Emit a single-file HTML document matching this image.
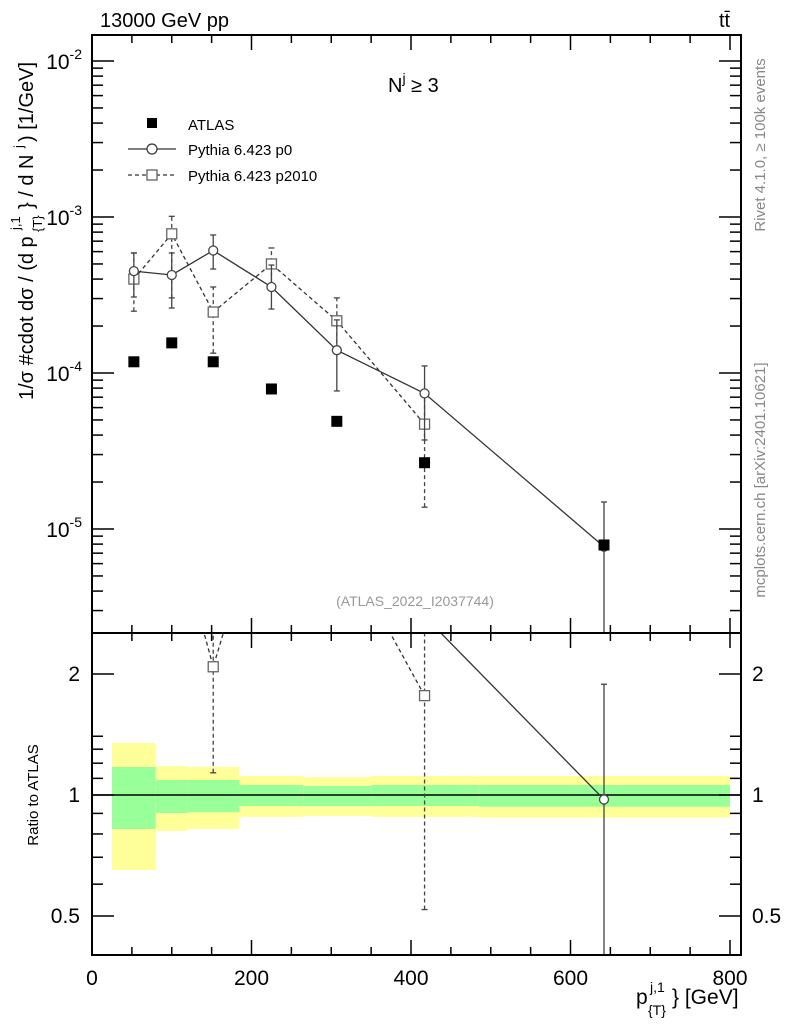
<!DOCTYPE html>
<html><head><meta charset="utf-8"><style>
html,body{margin:0;padding:0;background:#fff;overflow:hidden;width:786px;height:1024px;}
svg{font-family:"Liberation Sans",sans-serif;display:block;}
</style></head><body>
<svg id="c" width="786" height="1024" xmlns="http://www.w3.org/2000/svg">
<defs>
<clipPath id="cm"><rect x="92" y="35" width="649" height="598"/></clipPath>
<clipPath id="cr"><rect x="92" y="633" width="649" height="322"/></clipPath>
</defs>
<g id="bands"></g>
<g id="marks"></g>
<rect x="92" y="35" width="649" height="598" fill="none" stroke="#000" stroke-width="2"/>
<rect x="92" y="633" width="649" height="322" fill="none" stroke="#000" stroke-width="2"/>
<g id="ticks" stroke="#000" stroke-width="1.5"></g>
<g id="labels" font-size="21"></g>
<text x="100" y="27" font-size="20">13000 GeV pp</text>
<text x="719" y="27" font-size="20">tt̄</text>
<text x="388" y="92" font-size="20">N<tspan dy="-9" font-size="14">j</tspan><tspan dy="9"> ≥ 3</tspan></text>
<text x="415" y="606" font-size="14" fill="#999" text-anchor="middle">(ATLAS_2022_I2037744)</text>
<text transform="translate(765,145) rotate(-90)" font-size="15" fill="#888" text-anchor="middle">Rivet 4.1.0, ≥ 100k events</text>
<text transform="translate(765,480) rotate(-90)" font-size="15" fill="#888" text-anchor="middle">mcplots.cern.ch [arXiv:2401.10621]</text>
<g transform="translate(33,400) rotate(-90)">
<text x="0" y="0" font-size="20">1/σ #cdot dσ / (d p</text>
<text x="170" y="-13" font-size="13">j,1</text>
<text x="168" y="9" font-size="13">{T}</text>
<text x="191" y="0" font-size="20">} / d N</text>
<text x="252" y="-10" font-size="13">j</text>
<text x="258" y="0" font-size="20">) [1/GeV]</text>
</g>
<text transform="translate(38,795) rotate(-90)" font-size="15" text-anchor="middle">Ratio to ATLAS</text>
<g>
<text x="636" y="1004" font-size="21">p</text>
<text x="650" y="992" font-size="14">j,1</text>
<text x="648" y="1015" font-size="14">{T}</text>
<text x="672" y="1004" font-size="21">} [GeV]</text>
</g>
<g>
<rect x="147" y="118" width="10" height="10" fill="#000"/>
<text x="188" y="130" font-size="15">ATLAS</text>
<line x1="128" y1="149" x2="176" y2="149" stroke="#333" stroke-width="1.2"/>
<circle cx="152" cy="149" r="5" fill="#fff" stroke="#333" stroke-width="1.2"/>
<text x="188" y="155" font-size="15">Pythia 6.423 p0</text>
<line x1="128" y1="175" x2="176" y2="175" stroke="#333" stroke-width="1.2" stroke-dasharray="4,3"/>
<rect x="147" y="170" width="10" height="10" fill="#fff" stroke="#555" stroke-width="1.2"/>
<text x="188" y="181" font-size="15">Pythia 6.423 p2010</text>
</g>
</svg>
<script>
const binEdges=[25,80,120,185,265,350,485,800];
const xCenters=[52.5,100,152,225,307,417,642];
const atlas=[1.18e-4,1.56e-4,1.18e-4,7.9e-5,4.9e-5,2.66e-5,7.9e-6];
const p0=[4.5e-4,4.25e-4,6.1e-4,3.56e-4,1.4e-4,7.4e-5,7.7e-6];
const p0Lo=[3.07e-4,2.61e-4,4.64e-4,2.57e-4,7.67e-5,3.72e-5,1e-8];
const p0Hi=[5.88e-4,5.88e-4,7.67e-4,4.92e-4,2.19e-4,1.11e-4,1.49e-5];
const p2010=[4.0e-4,7.8e-4,2.46e-4,5.0e-4,2.16e-4,4.7e-5];
const p2010Lo=[2.49e-4,3.03e-4,1.34e-4,3.4e-4,1.4e-4,1.38e-5];
const p2010Hi=[5.88e-4,1.01e-3,3.56e-4,6.33e-4,3.03e-4,7.45e-5];
const yellowHi=[1.347,1.181,1.175,1.115,1.109,1.115,1.115];
const yellowLo=[0.651,0.814,0.823,0.882,0.887,0.882,0.878];
const greenHi=[1.174,1.09,1.09,1.059,1.053,1.059,1.059];
const greenLo=[0.823,0.902,0.906,0.939,0.939,0.939,0.935];
const xTickLabels=[0,200,400,600,800];
const yTickExps=[-2,-3,-4,-5];
const rTickLabels=[0.5,1,2];

const NS="http://www.w3.org/2000/svg";
const X=v=>92+v*0.7975;
const Y=v=>61-(Math.log10(v)+2)*156;
const R=v=>795-Math.log2(v)*121;
function mk(tag,at,parent){const e=document.createElementNS(NS,tag);for(const k in at)e.setAttribute(k,at[k]);parent.appendChild(e);return e;}
const bands=document.getElementById('bands');
for(let i=0;i<binEdges.length-1;i++){
 const x0=X(binEdges[i]),x1=X(binEdges[i+1]);
 const y=mk('rect',{x:x0,y:R(yellowHi[i]),width:x1-x0,height:R(yellowLo[i])-R(yellowHi[i]),fill:'#ffff99'},bands);
 
 
 const g=mk('rect',{x:x0,y:R(greenHi[i]),width:x1-x0,height:R(greenLo[i])-R(greenHi[i]),fill:'#99ff99'},bands);
 
 
}
mk('line',{x1:92,x2:741,y1:R(1),y2:R(1),stroke:'#000','stroke-width':1.5},bands);
const marks=document.getElementById('marks');
const gm=mk('g',{'clip-path':'url(#cm)'},marks);
const gr=mk('g',{'clip-path':'url(#cr)'},marks);
function series(vals,lo,hi,dash,shape,name){
 for(const [g,F,norm] of [[gm,Y,false],[gr,R,true]]){
  const f=(v,i)=>norm?F(v/atlas[i]):F(v);
  const top=norm?633:35,bot=norm?955:633;
  const cl=y=>Math.max(top,Math.min(bot,y));
  const pts=vals.map((v,i)=>X(xCenters[i])+','+f(v,i)).join(' ');
  const pl=mk('polyline',{points:pts,fill:'none',stroke:'#333','stroke-width':1.3,'stroke-dasharray':dash},g);
  
  
  vals.forEach((v,i)=>{
   const x=X(xCenters[i]);
   const yv=f(v,i);
   if(yv<top||yv>bot)return;
   const yl=f(lo[i],i),yh=f(hi[i],i);
   const eb=mk('line',{x1:x,x2:x,y1:cl(yl),y2:cl(yh),stroke:'#444','stroke-width':1.3,'stroke-dasharray':dash},g);
   
   
   for(const yy of [yl,yh]) if(yy>=top&&yy<=bot) mk('line',{x1:x-3,x2:x+3,y1:yy,y2:yy,stroke:'#444','stroke-width':1.3},g);
   let m;
   if(shape==='c') m=mk('circle',{cx:x,cy:yv,r:4.5,fill:'#fff',stroke:'#444','stroke-width':1.3},g);
   else m=mk('rect',{x:x-5,y:yv-5,width:10,height:10,fill:'#fff',stroke:'#666','stroke-width':1.3},g);
   
   
  });
 }
}
series(p2010,p2010Lo,p2010Hi,'4,3','s','p2010');
series(p0,p0Lo,p0Hi,'none','c','p0');
atlas.forEach((v,i)=>{
 const r=mk('rect',{x:X(xCenters[i])-5.5,y:Y(v)-5.5,width:11,height:11,fill:'#000'},gm);
 
 
});
const tk=document.getElementById('ticks');
const lb=document.getElementById('labels');
for(let v=0;v<=800;v+=50){
 const x=X(v),L=v%200===0?15:8;
 for(const [yb,yt] of [[633,35],[955,633]]){
  mk('line',{x1:x,x2:x,y1:yb,y2:yb-L},tk);mk('line',{x1:x,x2:x,y1:yt,y2:yt+L},tk);
 }
}
xTickLabels.forEach(v=>{const t=mk('text',{x:X(v),y:985,'text-anchor':'middle'},lb);t.textContent=v;
 });
for(let e=-6;e<=-2;e++)for(let m=1;m<10;m++){
 const y=Y(m*Math.pow(10,e));if(y<35||y>633)continue;const L=m===1?22:11;
 mk('line',{x1:92,x2:92+L,y1:y,y2:y},tk);mk('line',{x1:741,x2:741-L,y1:y,y2:y},tk);
}
yTickExps.forEach(e=>{const t=mk('text',{x:82,y:Y(Math.pow(10,e))+8,'text-anchor':'end'},lb);
 t.innerHTML='10<tspan dy="-10" font-size="14">'+e+'</tspan>';
 });
[0.5,0.6,0.7,0.8,0.9,1,1.1,1.2,1.3,1.4,2].forEach(v=>{const y=R(v),L=(v===0.5||v===1||v===2)?22:11;
 mk('line',{x1:92,x2:92+L,y1:y,y2:y},tk);mk('line',{x1:741,x2:741-L,y1:y,y2:y},tk);});
rTickLabels.forEach(v=>{for(const [x,a] of [[80,'end'],[752,'start']]){const t=mk('text',{x:x,y:R(v)+7,'text-anchor':a},lb);t.textContent=v;
 }});
</script>
</body></html>
